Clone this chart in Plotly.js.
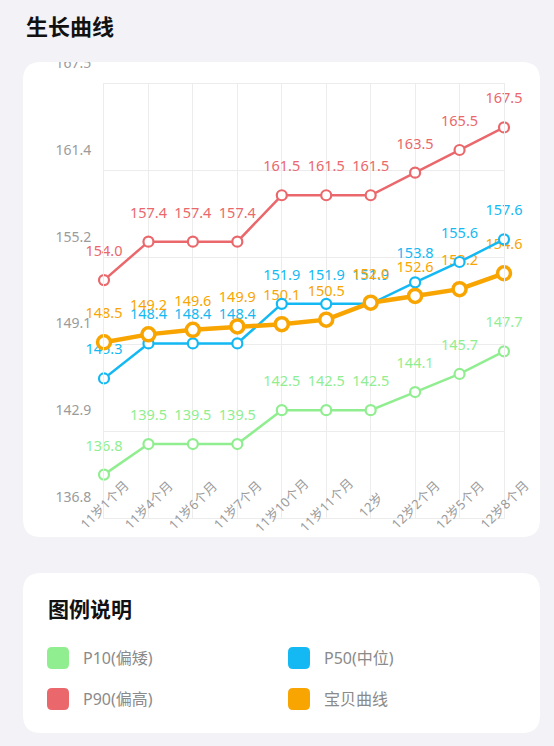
<!DOCTYPE html>
<html>
<head>
<meta charset="utf-8">
<script src="https://cdn.plot.ly/plotly-3.0.1.min.js"></script>
<style>
  html, body { margin: 0; padding: 0; background: #f2f2f7; }
  #chart { width: 554px; height: 746px; }
</style>
</head>
<body>
<div id="chart"></div>
<script>
// growth curve data
const categories = ['11岁1个月', '11岁4个月', '11岁6个月', '11岁7个月', '11岁10个月',
                    '11岁11个月', '12岁', '12岁2个月', '12岁5个月', '12岁8个月'];
const p10  = [136.8, 139.5, 139.5, 139.5, 142.5, 142.5, 142.5, 144.1, 145.7, 147.7];
const p50  = [145.3, 148.4, 148.4, 148.4, 151.9, 151.9, 151.9, 153.8, 155.6, 157.6];
const p90  = [154.0, 157.4, 157.4, 157.4, 161.5, 161.5, 161.5, 163.5, 165.5, 167.5];
const baby = [148.5, 149.2, 149.6, 149.9, 150.1, 150.5, 152.0, 152.6, 153.2, 154.6];
const seriesNames  = ['P10(偏矮)', 'P50(中位)', 'P90(偏高)', '宝贝曲线'];
const yTickLabels  = ['136.8', '142.9', '149.1', '155.2', '161.4', '167.5'];

document.addEventListener('DOMContentLoaded', function () {
    const BG = '#f2f2f7';
    const FONT = 'Noto Sans, Noto Sans CJK SC, sans-serif';
    const colors = ['#90ee90', '#14b9f3', '#ea686c', '#f8a502'];
    const series = [p10, p50, p90, baby];

    // plot area in page pixels, used to place the card / legend bits
    const L = 104, R = 504, T = 84, B = 518;
    const fx = x => (x - L) / (R - L);
    const fy = y => (B - y) / (B - T);

    function roundRect(x0, y0, x1, y1, r) {
        const p = (x, y) => fx(x) + ',' + fy(y);
        return 'M' + p(x0 + r, y0) + ' L' + p(x1 - r, y0) + ' Q' + p(x1, y0) + ' ' + p(x1, y0 + r) +
               ' L' + p(x1, y1 - r) + ' Q' + p(x1, y1) + ' ' + p(x1 - r, y1) +
               ' L' + p(x0 + r, y1) + ' Q' + p(x0, y1) + ' ' + p(x0, y1 - r) +
               ' L' + p(x0, y0 + r) + ' Q' + p(x0, y0) + ' ' + p(x0 + r, y0) + ' Z';
    }

    // y range: data span padded by 1/8 each side, grid split in 5
    const all = [].concat(p10, p50, p90, baby);
    const lo = Math.min(...all), hi = Math.max(...all);
    const pad = (hi - lo) / 8;
    const yRange = [lo - pad, hi + pad];
    const yTickVals = yTickLabels.map((_, i) => yRange[0] + i * (yRange[1] - yRange[0]) / 5);

    const traces = [];
    // value labels first, so lines and markers sit over them
    series.forEach((vals, i) => {
        traces.push({
            x: categories, y: vals,
            type: 'scatter', mode: 'markers+text',
            text: vals.map(v => v.toFixed(1)),
            textposition: 'top center',
            textfont: { size: 14.5, color: colors[i], family: FONT },
            marker: { size: 31, opacity: 0 },
            cliponaxis: false, hoverinfo: 'skip', showlegend: false
        });
    });
    series.forEach((vals, i) => {
        const isBaby = i === 3;
        traces.push({
            x: categories, y: vals,
            type: 'scatter', mode: 'lines+markers',
            name: seriesNames[i],
            line: { color: colors[i], width: isBaby ? 4.5 : 2.5 },
            marker: { size: isBaby ? 13 : 10, color: '#ffffff',
                      line: { color: colors[i], width: isBaby ? 3.5 : 2.2 } },
            cliponaxis: false, showlegend: false
        });
    });

    const annotations = [];
    annotations.push({
        text: '生长曲线', xref: 'paper', yref: 'paper', x: fx(24), y: fy(26),
        xanchor: 'left', yanchor: 'middle', showarrow: false,
        font: { size: 22, color: '#111111', family: FONT, weight: 'bold' }
    });
    // rotated category labels, centred under each grid line
    categories.forEach(c => {
        annotations.push({
            text: c, xref: 'x', yref: 'paper', x: c, y: 0, yshift: 13,
            textangle: -45, xanchor: 'center', yanchor: 'middle', showarrow: false,
            font: { size: 13, color: '#9b9b9b', family: FONT }
        });
    });
    annotations.push({
        text: '图例说明', xref: 'paper', yref: 'paper', x: fx(46), y: fy(609),
        xanchor: 'left', yanchor: 'middle', showarrow: false,
        font: { size: 21, color: '#111111', family: FONT, weight: 'bold' }
    });

    const shapes = [
        { type: 'path', xref: 'paper', yref: 'paper', layer: 'below',
          path: roundRect(23, 62, 540, 537, 18), fillcolor: '#ffffff', line: { width: 0 } },
        { type: 'path', xref: 'paper', yref: 'paper', layer: 'below',
          path: roundRect(23, 573, 540, 733, 18), fillcolor: '#ffffff', line: { width: 0 } },
        // the top axis label is cut off by the card edge
        { type: 'rect', xref: 'paper', yref: 'paper', layer: 'above',
          x0: fx(0), x1: fx(554), y0: fy(0), y1: fy(62), fillcolor: BG, line: { width: 0 } }
    ];

    // legend: P10, P50 / P90, baby
    const legendPos = [[47, 647], [288, 647], [47, 688], [288, 688]];
    seriesNames.forEach((name, i) => {
        const [lx, ly] = legendPos[i];
        shapes.push({ type: 'path', xref: 'paper', yref: 'paper', layer: 'above',
            path: roundRect(lx, ly, lx + 22, ly + 22, 5), fillcolor: colors[i], line: { width: 0 } });
        annotations.push({
            text: name, xref: 'paper', yref: 'paper', x: fx(lx + 34), y: fy(ly + 11),
            xanchor: 'left', yanchor: 'middle', showarrow: false,
            font: { size: 16, color: '#8a8a8a', family: FONT }
        });
    });

    const layout = {
        width: 554, height: 746,
        paper_bgcolor: BG,
        plot_bgcolor: 'rgba(0,0,0,0)',
        margin: { l: L, r: 554 - R, t: T, b: 746 - B, pad: 0 },
        font: { family: FONT },
        showlegend: false,
        xaxis: {
            type: 'category', range: [0, categories.length - 1],
            showgrid: true, gridcolor: '#ececec', gridwidth: 1,
            showline: true, mirror: true, linecolor: '#ececec', linewidth: 1,
            showticklabels: false, ticks: '', zeroline: false, fixedrange: true
        },
        yaxis: {
            range: yRange, tickmode: 'array', tickvals: yTickVals, ticktext: yTickLabels,
            showgrid: true, gridcolor: '#ececec', gridwidth: 1,
            showline: true, mirror: true, linecolor: '#ececec', linewidth: 1,
            ticks: '', zeroline: false, fixedrange: true,
            tickfont: { size: 14, color: '#9b9b9b' },
            ticklabelshift: -21, ticklabelstandoff: 9
        },
        shapes: shapes,
        annotations: annotations
    };

    Plotly.newPlot('chart', traces, layout, { displayModeBar: false, staticPlot: true });
});
</script>
</body>
</html>
